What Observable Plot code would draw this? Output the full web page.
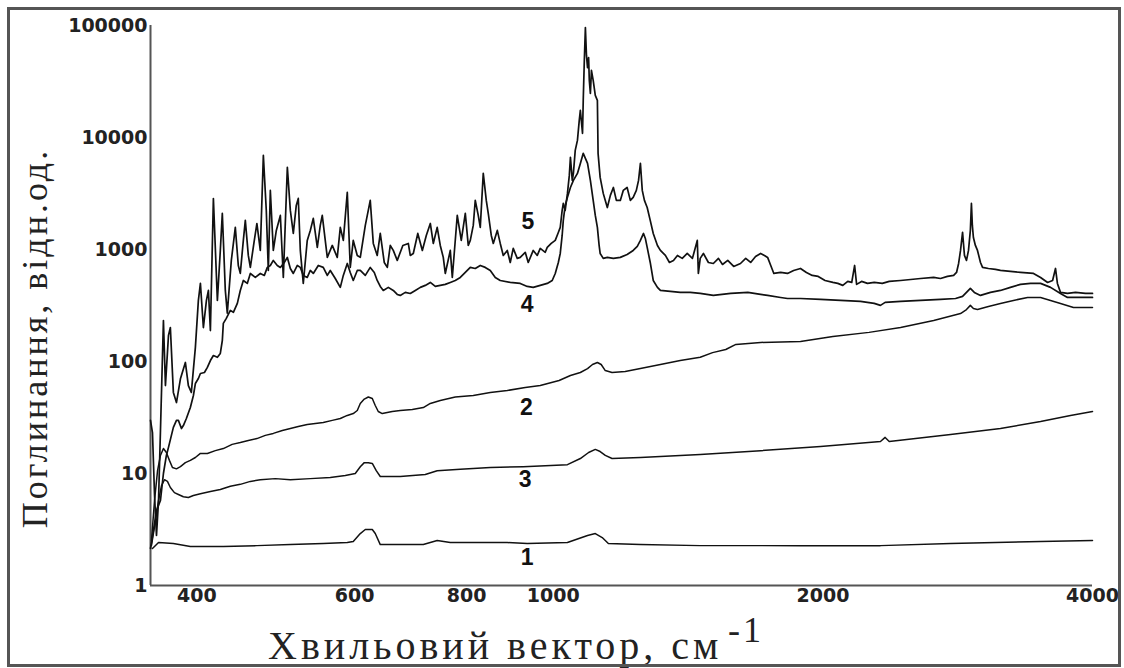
<!DOCTYPE html>
<html>
<head>
<meta charset="utf-8">
<script src="https://cdn.jsdelivr.net/npm/d3@7"></script>
<script src="https://cdn.jsdelivr.net/npm/@observablehq/plot@0.6"></script>
<style>
  body { margin: 0; background: #fff; }
  #wrap { position: relative; width: 1124px; height: 668px; overflow: hidden; background: #fff; }
  #frame { position: absolute; left: 7px; top: 7px; width: 1114px; height: 660px; border: 3px solid #555; box-sizing: border-box; pointer-events: none; }
  #xt { position: absolute; left: 268px; top: 626px; font-family: "Liberation Serif", "DejaVu Serif", serif; font-size: 40px; line-height: 40px; letter-spacing: 4px; white-space: nowrap; color: #222; }
  #xs { position: absolute; left: 728px; top: 612px; font-family: "Liberation Serif", "DejaVu Serif", serif; font-size: 36px; line-height: 36px; letter-spacing: 3px; white-space: nowrap; color: #222; }
  #yt { position: absolute; left: 35px; top: 338px; transform: translate(-50%, -50%) rotate(-90deg); font-family: "Liberation Serif", "DejaVu Serif", serif; font-size: 36px; line-height: 36px; letter-spacing: 3px; white-space: nowrap; color: #222; }
</style>
</head>
<body>
<div id="wrap">
  <div id="chart"></div>
  <div id="yt">Поглинання, відн.од.</div>
  <div id="xt">Хвильовий вектор, см</div>
  <div id="xs">-1</div>
  <div id="frame"></div>
</div>
<script>
// x tick values (wavenumber, cm^-1) and y tick values (absorption, a.u.)
const xTicks = [400, 600, 800, 1000, 2000, 4000];
const yTicks = [1, 10, 100, 1000, 10000, 100000];

// series: [wavenumber, absorption]
const s1 = [[356.8,2.14],[362.4,2.42],[376.5,2.37],[393.3,2.23],[428.1,2.23],[466.7,2.27],[508.6,2.32],[553.5,2.37],[588.8,2.42],[597.9,2.47],[608.8,2.91],[616.7,3.16],[627.9,3.16],[632.7,2.91],[640.9,2.32],[715.9,2.32],[741.9,2.52],[767.3,2.42],[888.4,2.42],[935.2,2.37],[1037,2.42],[1092,2.8],[1114,2.91],[1134,2.68],[1152,2.37],[1251,2.32],[1459,2.27],[1888,2.27],[2319,2.27],[2777,2.37],[3500,2.47],[4000,2.52]];

const s2 = [[355.9,2.52],[358.7,5.74],[361.5,10.6],[364.2,14.5],[367,16.7],[369.8,15.4],[372.7,13.1],[375.6,11.3],[379.5,11],[383.4,11.5],[388.3,12.5],[393.3,13.1],[398.4,13.9],[403.6,15.1],[410.9,15.1],[419.4,16],[428.1,16.7],[437.9,18.2],[447.2,18.9],[456.5,19.7],[466.7,20.5],[476.9,21.9],[486.8,22.8],[498.2,24.2],[508.6,25.2],[519.1,26.3],[531.2,27.4],[542.3,27.9],[553.5,28.5],[566.5,29.8],[578.3,31],[588.8,33],[597.9,34.3],[604.1,36.5],[608.8,42.2],[615.1,46.2],[621.5,48.2],[627.9,46.7],[632.7,40.5],[637.6,35.8],[644.2,34.3],[660.9,35.8],[674.7,36.5],[695.9,37.2],[715.9,38.8],[728.9,42.2],[747.8,44.9],[777.2,48.2],[814,49.7],[850.4,52.9],[888.4,55.1],[930.4,58.7],[967,61.1],[1015,67.7],[1045,75],[1072,79.8],[1092,86.5],[1106,94],[1120,98],[1131,94],[1143,83],[1163,79.8],[1203,81.5],[1251,86.5],[1317,94],[1386,102],[1459,109],[1506,120],[1558,128],[1599,142],[1704,148],[1888,151],[2052,167],[2252,182],[2442,201],[2659,232],[2849,268],[2893,291],[2922,317],[2945,297],[2976,291],[3061,310],[3157,330],[3264,351],[3385,373],[3500,373],[3591,351],[3684,330],[3809,303],[4000,303]];

const s3 = [[355.9,2.28],[359.6,3.8],[362.4,5.74],[365.2,7.8],[368,8.8],[370.8,8.5],[373.6,7.5],[377.5,6.75],[381.4,6.5],[386.3,6.2],[391.3,6.1],[396.4,6.36],[403.6,6.6],[414.1,6.9],[424.8,7.2],[435.9,7.7],[447.2,8],[458.9,8.5],[470.8,8.8],[489.3,9],[508.6,8.8],[535.4,9],[563.6,9.2],[585.8,9.6],[601,10],[608.8,11.5],[615.1,12.5],[621.5,12.5],[627.9,12.3],[634.3,10.6],[640.9,9.4],[674.7,9.4],[719.5,9.8],[741.9,10.6],[787.3,10.9],[850.4,11.3],[925.6,11.5],[1037,12],[1072,13.6],[1095,15.4],[1114,16.4],[1128,15.7],[1143,14.5],[1163,13.6],[1251,13.9],[1459,14.8],[1704,16],[1988,17.4],[2319,19.3],[2347,21],[2372,19.3],[2777,22.3],[3157,25.2],[3500,29.1],[3780,33],[4000,35.8]];

const s4 = [[355,2.14],[357.7,3.1],[360.5,4.67],[364.2,5.74],[367,10],[369.8,14.5],[371.8,17.1],[374.6,21.9],[376.5,25.8],[379.5,29.8],[381.4,29.8],[384.4,25.2],[386.3,26.8],[389.3,31],[393.3,38.9],[396.4,49.7],[398.4,63.6],[401.5,70.5],[403.6,78.2],[407.8,79.8],[410.9,88.5],[414.1,102],[417.3,113],[421.6,109],[424.8,118],[427,154],[428.1,219],[431.4,243],[435.9,286],[439.3,275],[443.8,330],[447.2,431],[450.7,529],[455.3,498],[458.9,611],[464.8,563],[470.8,611],[475.7,587],[479.4,692],[483.1,720],[486.8,799],[491.8,720],[495.7,692],[500.7,766],[504.7,850],[508.6,677],[512.5,611],[517.8,720],[521.8,692],[525.8,587],[531.2,563],[535.4,650],[539.5,611],[546.5,720],[553.5,692],[559.3,587],[563.6,650],[570.9,551],[578.3,459],[582.8,587],[588.8,750],[593.3,624],[597.9,529],[604.1,650],[608.8,650],[616.7,587],[624.6,692],[631.1,624],[635.9,529],[640.9,468],[645.9,431],[654.3,459],[662.7,431],[669.5,397],[674.7,389],[683.5,414],[692.3,405],[701.3,431],[710.4,459],[719.5,478],[728.9,508],[738.3,468],[747.8,478],[757.5,488],[767.3,508],[777.2,529],[787.3,563],[797.5,624],[807.8,692],[818.2,677],[828.8,720],[839.5,692],[850.4,650],[861.4,563],[872.5,529],[895.2,508],[918.5,498],[935.2,468],[949.7,459],[967,478],[984.5,498],[997.2,529],[1005,611],[1013,766],[1018,922],[1023,1335],[1026,1818],[1031,2475],[1037,2920],[1045,3580],[1053,4138],[1064,4780],[1072,5870],[1080,7220],[1086,6500],[1092,5870],[1100,4138],[1108,2743],[1114,2015],[1120,1575],[1125,1087],[1128,922],[1137,833],[1149,850],[1167,833],[1188,850],[1209,903],[1228,981],[1241,1065],[1251,1205],[1261,1391],[1267,1255],[1273,1044],[1283,766],[1293,529],[1307,459],[1317,431],[1351,422],[1386,414],[1422,414],[1459,405],[1509,389],[1578,405],[1649,414],[1704,397],[1735,389],[1794,373],[1826,365],[1888,365],[1988,358],[2093,351],[2203,344],[2282,330],[2319,317],[2347,337],[2442,344],[2571,351],[2706,358],[2813,365],[2864,381],[2893,414],[2922,449],[2952,414],[2999,389],[3077,414],[3157,431],[3239,459],[3324,488],[3411,498],[3500,498],[3591,459],[3684,405],[3751,373],[3879,373],[4000,373]];

const s5 = [[355,29.8],[356.8,23.2],[358.7,6.4],[360.5,2.8],[362.4,5.7],[364.2,24],[367,232],[368.9,61],[371.8,171],[373.6,201],[376.5,53],[379.5,43],[383.4,70],[388.3,98],[391.3,61],[394.3,53],[398.4,133],[401.5,351],[403.6,498],[406.7,201],[409.9,351],[412,431],[414.1,189],[417.3,2850],[421.6,351],[424.8,981],[427,2100],[430.3,431],[432.5,270],[437,799],[441.5,1575],[444.9,720],[447.2,612],[450.7,1205],[453,1818],[456.5,885],[458.9,692],[463.6,1205],[466.7,1707],[470.8,981],[474.5,6919],[478.1,2233],[480.6,650],[483.1,3369],[486.8,981],[490.6,1480],[495.7,2015],[499.5,563],[504.7,5410],[508.6,2233],[512.5,1391],[516.4,2475],[519.1,2858],[521.8,981],[525.8,498],[531.2,1205],[535.4,1480],[539.5,1895],[545.1,1043],[549.3,1640],[552.1,2015],[559.3,850],[566.5,1087],[573.8,850],[578.3,1575],[582.8,1205],[588.8,3233],[593.3,692],[597.9,1205],[604.1,885],[608.8,850],[616.7,1640],[624.6,2743],[629.5,1133],[635.9,885],[640.9,1391],[647.5,766],[652.6,692],[657.6,1087],[662.7,981],[669.5,799],[679.2,1087],[688.8,1133],[692.3,885],[697.7,922],[705.8,1391],[714.1,981],[721.4,1335],[728.9,1709],[734.5,1133],[741.9,1575],[747.8,1087],[753.6,850],[757.5,611],[767.3,981],[771.3,563],[781.2,2015],[789.3,1205],[797.5,2100],[803.6,1087],[807.8,1205],[814,1640],[818.2,2743],[824.5,2015],[828.8,1575],[835.2,4779],[841.7,2743],[846,2100],[852.6,1335],[857,1133],[865.9,1480],[872.5,1133],[879.3,885],[888.4,981],[895.2,766],[902.1,1022],[911.5,833],[918.5,850],[930.4,944],[937.6,766],[949.7,981],[959.6,885],[967,1022],[979.5,944],[984.5,1044],[994.7,1133],[1005,1205],[1013,1420],[1018,1575],[1023,2233],[1026,2578],[1031,2233],[1037,3170],[1042,4586],[1045,6640],[1050,4138],[1053,4780],[1058,7668],[1064,9419],[1069,14210],[1072,17450],[1078,10900],[1080,21440],[1083,48790],[1086,96000],[1089,54070],[1092,42000],[1095,51800],[1097,32340],[1100,24700],[1103,39720],[1108,32340],[1114,23760],[1120,21440],[1122,7220],[1128,4400],[1137,3170],[1143,2743],[1149,2370],[1158,3040],[1167,3580],[1176,2743],[1188,2743],[1197,3369],[1209,3580],[1219,2743],[1228,2920],[1238,3369],[1245,4138],[1251,5870],[1257,3369],[1264,2743],[1273,2370],[1283,1818],[1293,1391],[1307,1087],[1317,981],[1334,885],[1348,766],[1362,799],[1376,885],[1393,833],[1411,922],[1430,833],[1448,1205],[1452,611],[1459,833],[1471,922],[1490,766],[1509,750],[1529,833],[1545,735],[1566,799],[1590,706],[1618,750],[1640,833],[1661,766],[1682,867],[1704,922],[1721,885],[1735,850],[1749,720],[1763,611],[1794,624],[1826,611],[1855,650],[1888,677],[1917,624],[1946,587],[1976,575],[2011,529],[2052,508],[2078,498],[2105,478],[2132,519],[2154,508],[2170,720],[2181,488],[2209,519],[2243,498],[2282,508],[2330,498],[2372,519],[2442,529],[2506,540],[2571,551],[2659,563],[2706,551],[2755,575],[2799,587],[2820,624],[2835,750],[2849,981],[2864,1420],[2878,885],[2893,799],[2908,981],[2922,1480],[2930,2578],[2937,1640],[2945,1280],[2960,1087],[2976,981],[2999,766],[3015,692],[3061,677],[3117,664],[3157,650],[3239,637],[3324,624],[3437,611],[3500,563],[3564,508],[3610,529],[3637,677],[3655,498],[3684,414],[3751,405],[3829,414],[3929,405],[4000,405]];

// curve number labels
const labelText = ["5", "4", "2", "3", "1"];
const labelX = [937, 935, 933, 930, 935];
const labelY = [1780, 323, 38.9, 8.84, 1.78];

const series = [s1, s2, s3, s4, s5];
const labels = labelText.map((t, i) => ({t, x: labelX[i], y: labelY[i]}));

const chart = Plot.plot({
  width: 1124,
  height: 668,
  marginLeft: 150,
  marginRight: 32,
  marginTop: 25,
  marginBottom: 83,
  style: {fontFamily: "'DejaVu Sans', sans-serif", fontSize: "19px", fontWeight: "bold", color: "#222", background: "transparent"},
  x: {type: "log", domain: [355, 4000], ticks: xTicks, tickFormat: d => String(d), tickSize: 0, tickPadding: 3, label: null},
  y: {type: "log", domain: [1, 100000], ticks: yTicks, tickFormat: d => String(d), tickSize: 0, tickPadding: 3, label: null},
  marks: [
    Plot.ruleX([355], {stroke: "#555", strokeWidth: 2}),
    Plot.ruleY([1], {stroke: "#555", strokeWidth: 2}),
    ...series.map((s, i) => Plot.line(s, {x: d => d[0], y: d => d[1], stroke: "#111", strokeWidth: i >= 3 ? 1.7 : 1.5, strokeLinejoin: "round"})),
    Plot.text(labels, {x: "x", y: "y", text: "t", fontSize: 23, fontWeight: "bold", fontFamily: "'Liberation Sans', Arial, sans-serif", fill: "#111"})
  ]
});
document.getElementById("chart").appendChild(chart);
</script>
</body>
</html>
